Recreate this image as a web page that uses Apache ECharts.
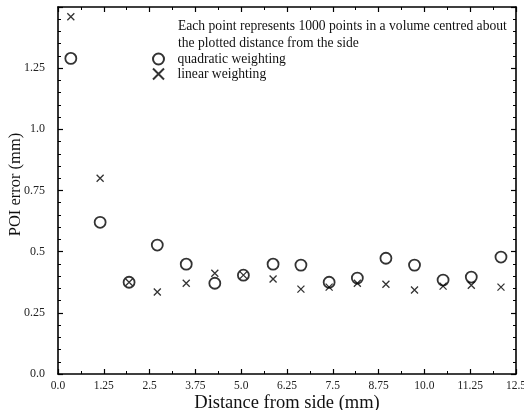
<!DOCTYPE html>
<html>
<head>
<meta charset="utf-8">
<script src="https://cdn.jsdelivr.net/npm/echarts@6/dist/echarts.min.js"></script>
<style>html,body{margin:0;padding:0;background:#fff;}#c{width:524px;height:410px;}</style>
</head>
<body>
<div id="c"></div>
<script>
var distances = [0.35, 1.15, 1.94, 2.71, 3.5, 4.28, 5.06, 5.87, 6.63, 7.4, 8.17, 8.95, 9.73, 10.51, 11.28, 12.09];
var quadratic = [1.29, 0.62, 0.375, 0.527, 0.449, 0.371, 0.404, 0.449, 0.445, 0.375, 0.392, 0.473, 0.445, 0.384, 0.396, 0.478];
var linear = [1.46, 0.80, 0.375, 0.335, 0.371, 0.412, 0.404, 0.388, 0.347, 0.355, 0.371, 0.367, 0.343, 0.359, 0.363, 0.355];
var xTickLabels = ["0.0", "1.25", "2.5", "3.75", "5.0", "6.25", "7.5", "8.75", "10.0", "11.25", "12.5"];
var yTickLabels = ["0.0", "0.25", "0.5", "0.75", "1.0", "1.25", ""];
var noteText = "Each point represents 1000 points in a volume centred about\nthe plotted distance from the side";

var serif = "'Liberation Serif', 'DejaVu Serif', serif";
function pairs(xs, ys) { return xs.map(function (x, i) { return [x, ys[i]]; }); }

function ax(extra, minorSplit) {
  return Object.assign({
    axisLine: { show: true, onZero: false, lineStyle: { color: '#000', width: 1.6 } },
    axisTick: { show: true, inside: true, length: 5, lineStyle: { color: '#000', width: 1.2 } },
    minorTick: { show: true, splitNumber: minorSplit, length: 3, lineStyle: { color: '#000', width: 1 } },
    splitLine: { show: false }
  }, extra);
}

var chart = echarts.init(document.getElementById('c'), null, { renderer: 'canvas' });
chart.setOption({
  backgroundColor: '#fff',
  animation: false,
  title: {
    text: noteText,
    left: 173, top: 13,
    textStyle: { fontFamily: serif, fontSize: 13.6, fontWeight: 'normal', color: '#111', lineHeight: 17 }
  },
  legend: {
    orient: 'vertical', left: 147, top: 47,
    itemWidth: 14, itemHeight: 11, itemGap: 1,
    textStyle: { fontFamily: serif, fontSize: 13.6, color: '#111', padding: [0, 0, 0, 7] },
    data: ['quadratic weighting', 'linear weighting']
  },
  grid: { left: 58, right: 8, top: 7, bottom: 36, outerBoundsMode: 'none', containLabel: false },
  xAxis: [
    ax({
      type: 'value', min: 0, max: 12.5, interval: 1.25, position: 'bottom',
      name: 'Distance from side (mm)', nameLocation: 'middle', nameGap: 20, nameMoveOverlap: false,
      nameTextStyle: { fontFamily: serif, fontSize: 18.5, color: '#111' },
      axisLabel: { margin: 6, fontFamily: serif, fontSize: 11.5, color: '#222',
        formatter: function (v) { var i = Math.round(v / 1.25); return xTickLabels[i] || ''; } }
    }, 2),
    ax({
      type: 'value', min: 0, max: 12.5, interval: 1.25, position: 'top',
      axisLabel: { show: false }
    }, 2)
  ],
  yAxis: [
    ax({
      type: 'value', min: 0, max: 1.5, interval: 0.25, position: 'left',
      name: 'POI error (mm)', nameLocation: 'middle', nameGap: 34, nameRotate: 90, nameMoveOverlap: false,
      nameTextStyle: { fontFamily: serif, fontSize: 16.5, color: '#111', padding: [0, 0, 0, 12] },
      axisLabel: { margin: 13, fontFamily: serif, fontSize: 12, color: '#222',
        formatter: function (v) { var i = Math.round(v / 0.25); return yTickLabels[i] || ''; } }
    }, 5),
    ax({
      type: 'value', min: 0, max: 1.5, interval: 0.25, position: 'right',
      axisLabel: { show: false }
    }, 5)
  ],
  series: [
    {
      name: 'quadratic weighting', type: 'scatter', xAxisIndex: 0, yAxisIndex: 0,
      symbol: 'circle', symbolSize: 11,
      itemStyle: { color: 'rgba(0,0,0,0)', borderColor: '#000', borderWidth: 1.8 },
      data: pairs(distances, quadratic)
    },
    {
      name: 'linear weighting', type: 'scatter', xAxisIndex: 0, yAxisIndex: 0,
      symbol: 'path://M0,0L10,10M10,0L0,10', symbolSize: 7,
      itemStyle: { color: 'rgba(0,0,0,0)', borderColor: '#000', borderWidth: 1.3 },
      data: pairs(distances, linear)
    }
  ]
});
</script>
</body>
</html>
